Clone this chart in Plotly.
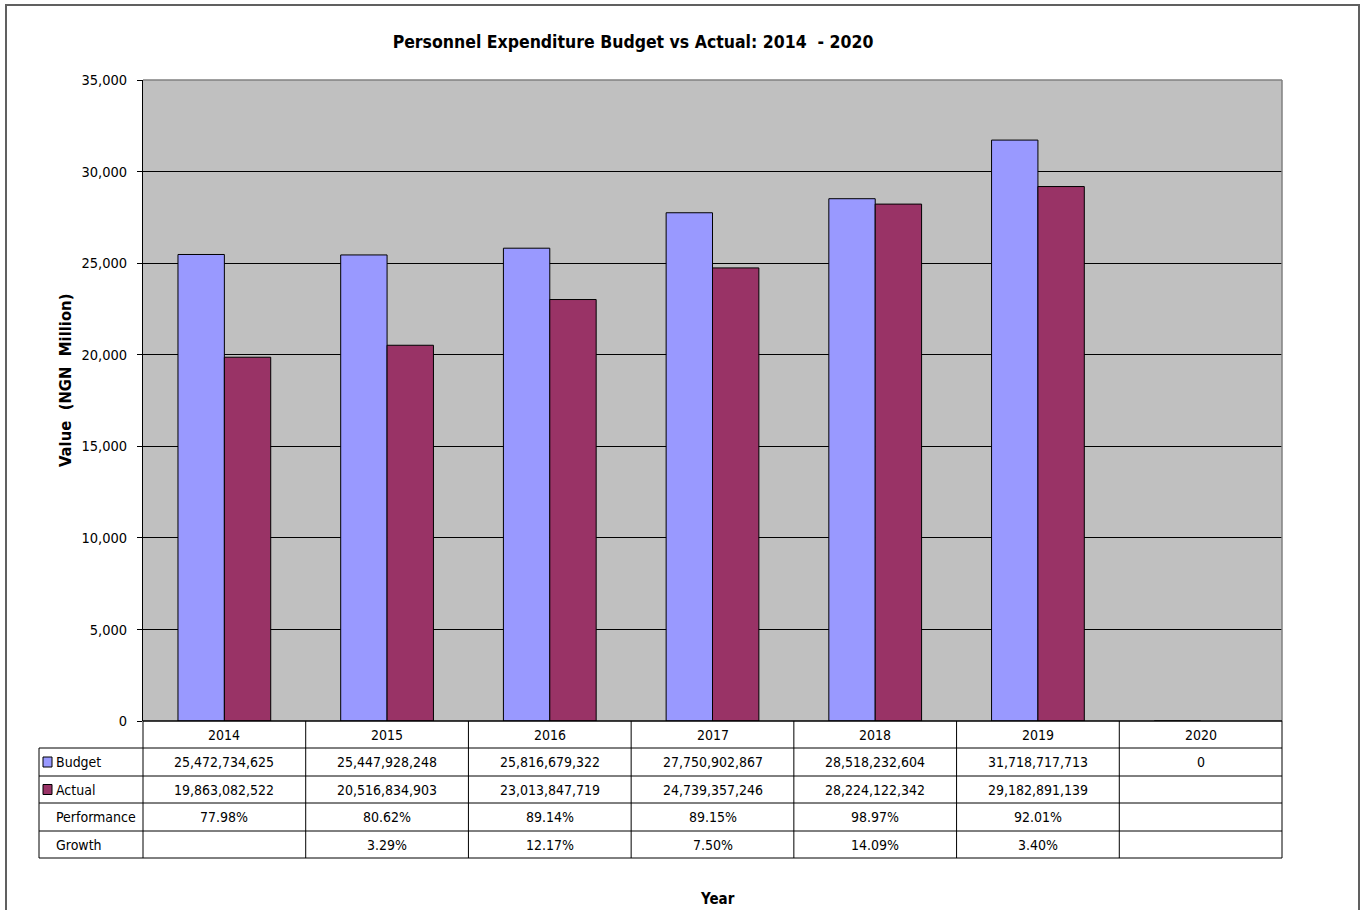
import plotly.graph_objects as go

# Personnel expenditure, Naira
years = ["2014", "2015", "2016", "2017", "2018", "2019", "2020"]
budget = [25472734625, 25447928248, 25816679322, 27750902867, 28518232604, 31718717713, 0]
actual = [19863082522, 20516834903, 23013847719, 24739357246, 28224122342, 29182891139, None]
performance = ["77.98%", "80.62%", "89.14%", "89.15%", "98.97%", "92.01%", ""]
growth = ["", "3.29%", "12.17%", "7.50%", "14.09%", "3.40%", ""]
y_ticks = [0, 5000, 10000, 15000, 20000, 25000, 30000, 35000]

BUDGET_COLOR = "#9999FF"
ACTUAL_COLOR = "#993366"
FONT = "DejaVu Sans Condensed, Tahoma, DejaVu Sans, sans-serif"

W, H = 1366, 910
L, R, T, B = 143, 1282, 80, 721  # plot-area pixel box


def px(x):
    return (x - L) / (R - L)


def py(y):
    return (B - y) / (B - T)


budget_m = [v / 1e6 for v in budget]
actual_m = [None if v is None else v / 1e6 for v in actual]

fig = go.Figure()
fig.add_bar(x=years, y=budget_m, name="Budget", marker=dict(color=BUDGET_COLOR, line=dict(color="black", width=1)))
fig.add_bar(x=years, y=actual_m, name="Actual", marker=dict(color=ACTUAL_COLOR, line=dict(color="black", width=1)))

fig.update_layout(
    width=W, height=H,
    margin=dict(l=L, r=W - R, t=T, b=H - B, pad=0),
    paper_bgcolor="white", plot_bgcolor="#C0C0C0",
    barmode="group", bargap=0.43, bargroupgap=0,
    showlegend=False,
    font=dict(family=FONT, size=13, color="black"),
    title=dict(text="<b>Personnel Expenditure Budget vs Actual: 2014  - 2020</b>",
               x=px(633), xref="paper", xanchor="center", y=1 - 42 / H, yanchor="middle",
               font=dict(size=17.5, family=FONT)),
)
fig.update_xaxes(showticklabels=False, ticks="", showgrid=False, showline=False, zeroline=False,
                 range=[-0.5, 6.5], fixedrange=True)
fig.update_yaxes(range=[0, 35000], tickvals=y_ticks, tickformat=",d", ticks="outside", ticklen=5,
                 tickcolor="black", showline=True, linecolor="black", linewidth=1,
                 showgrid=True, gridcolor="black", gridwidth=1, zeroline=False,
                 ticklabelstandoff=7, tickfont=dict(size=14.5), fixedrange=True)

shapes = []
annotations = []

# plot-area border: gray top/right, black bottom axis
shapes.append(dict(type="line", xref="paper", yref="paper", x0=0, x1=1, y0=1, y1=1, line=dict(color="#808080", width=1.5)))
shapes.append(dict(type="line", xref="paper", yref="paper", x0=1, x1=1, y0=0, y1=1, line=dict(color="#808080", width=1.5)))
shapes.append(dict(type="line", xref="paper", yref="paper", x0=0, x1=1, y0=0, y1=0, line=dict(color="black", width=1.5)))

# outer chart frame
shapes.append(dict(type="rect", xref="paper", yref="paper", x0=px(6), x1=px(1359), y0=py(5), y1=py(930),
                   line=dict(color="#606060", width=2), fillcolor="rgba(0,0,0,0)", layer="below"))

# data table grid
row_edges = [721, 748, 776, 803, 831, 858]
label_left = 39
col_edges = [L + (R - L) * i / len(years) for i in range(len(years) + 1)]
for yy in row_edges[1:]:
    shapes.append(dict(type="line", xref="paper", yref="paper", x0=px(label_left), x1=px(R),
                       y0=py(yy), y1=py(yy), line=dict(color="black", width=1)))
for xx in col_edges:
    shapes.append(dict(type="line", xref="paper", yref="paper", x0=px(xx), x1=px(xx),
                       y0=py(row_edges[0]), y1=py(row_edges[-1]), line=dict(color="black", width=1)))
shapes.append(dict(type="line", xref="paper", yref="paper", x0=px(label_left), x1=px(label_left),
                   y0=py(row_edges[1]), y1=py(row_edges[-1]), line=dict(color="black", width=1)))

row_mid = [(row_edges[i] + row_edges[i + 1]) / 2 for i in range(len(row_edges) - 1)]
col_mid = [(col_edges[i] + col_edges[i + 1]) / 2 for i in range(len(years))]


def cell(x, y, text, anchor="center"):
    annotations.append(dict(text=text, xref="paper", yref="paper", x=px(x), y=py(y),
                            xanchor=anchor, yanchor="middle", showarrow=False,
                            font=dict(size=14, family=FONT)))


def fmt(v):
    return "" if v is None else f"{v:,}"


for j, yr in enumerate(years):
    cell(col_mid[j], row_mid[0], yr)
    cell(col_mid[j], row_mid[1], fmt(budget[j]))
    cell(col_mid[j], row_mid[2], fmt(actual[j]))
    cell(col_mid[j], row_mid[3], performance[j])
    cell(col_mid[j], row_mid[4], growth[j])

# row headers with legend keys
for k, (name, color) in enumerate([("Budget", BUDGET_COLOR), ("Actual", ACTUAL_COLOR)]):
    yc = row_mid[1 + k]
    shapes.append(dict(type="rect", xref="paper", yref="paper", x0=px(43), x1=px(52),
                       y0=py(yc + 5), y1=py(yc - 5), fillcolor=color, line=dict(color="black", width=1)))
    cell(54, yc, name, anchor="left")
cell(54, row_mid[3], "Performance", anchor="left")
cell(54, row_mid[4], "Growth", anchor="left")

# axis titles
annotations.append(dict(text="<b>Value&nbsp;&nbsp;(NGN&nbsp;&nbsp;Million)</b>", xref="paper", yref="paper",
                        x=px(65), y=py(381), textangle=-90, showarrow=False,
                        xanchor="center", yanchor="middle", font=dict(size=16.5, family=FONT)))
annotations.append(dict(text="<b>Year</b>", xref="paper", yref="paper", x=px(717), y=py(899),
                        showarrow=False, xanchor="center", yanchor="middle", font=dict(size=15, family=FONT)))

fig.update_layout(shapes=shapes, annotations=annotations)
fig.write_html("out.html")
